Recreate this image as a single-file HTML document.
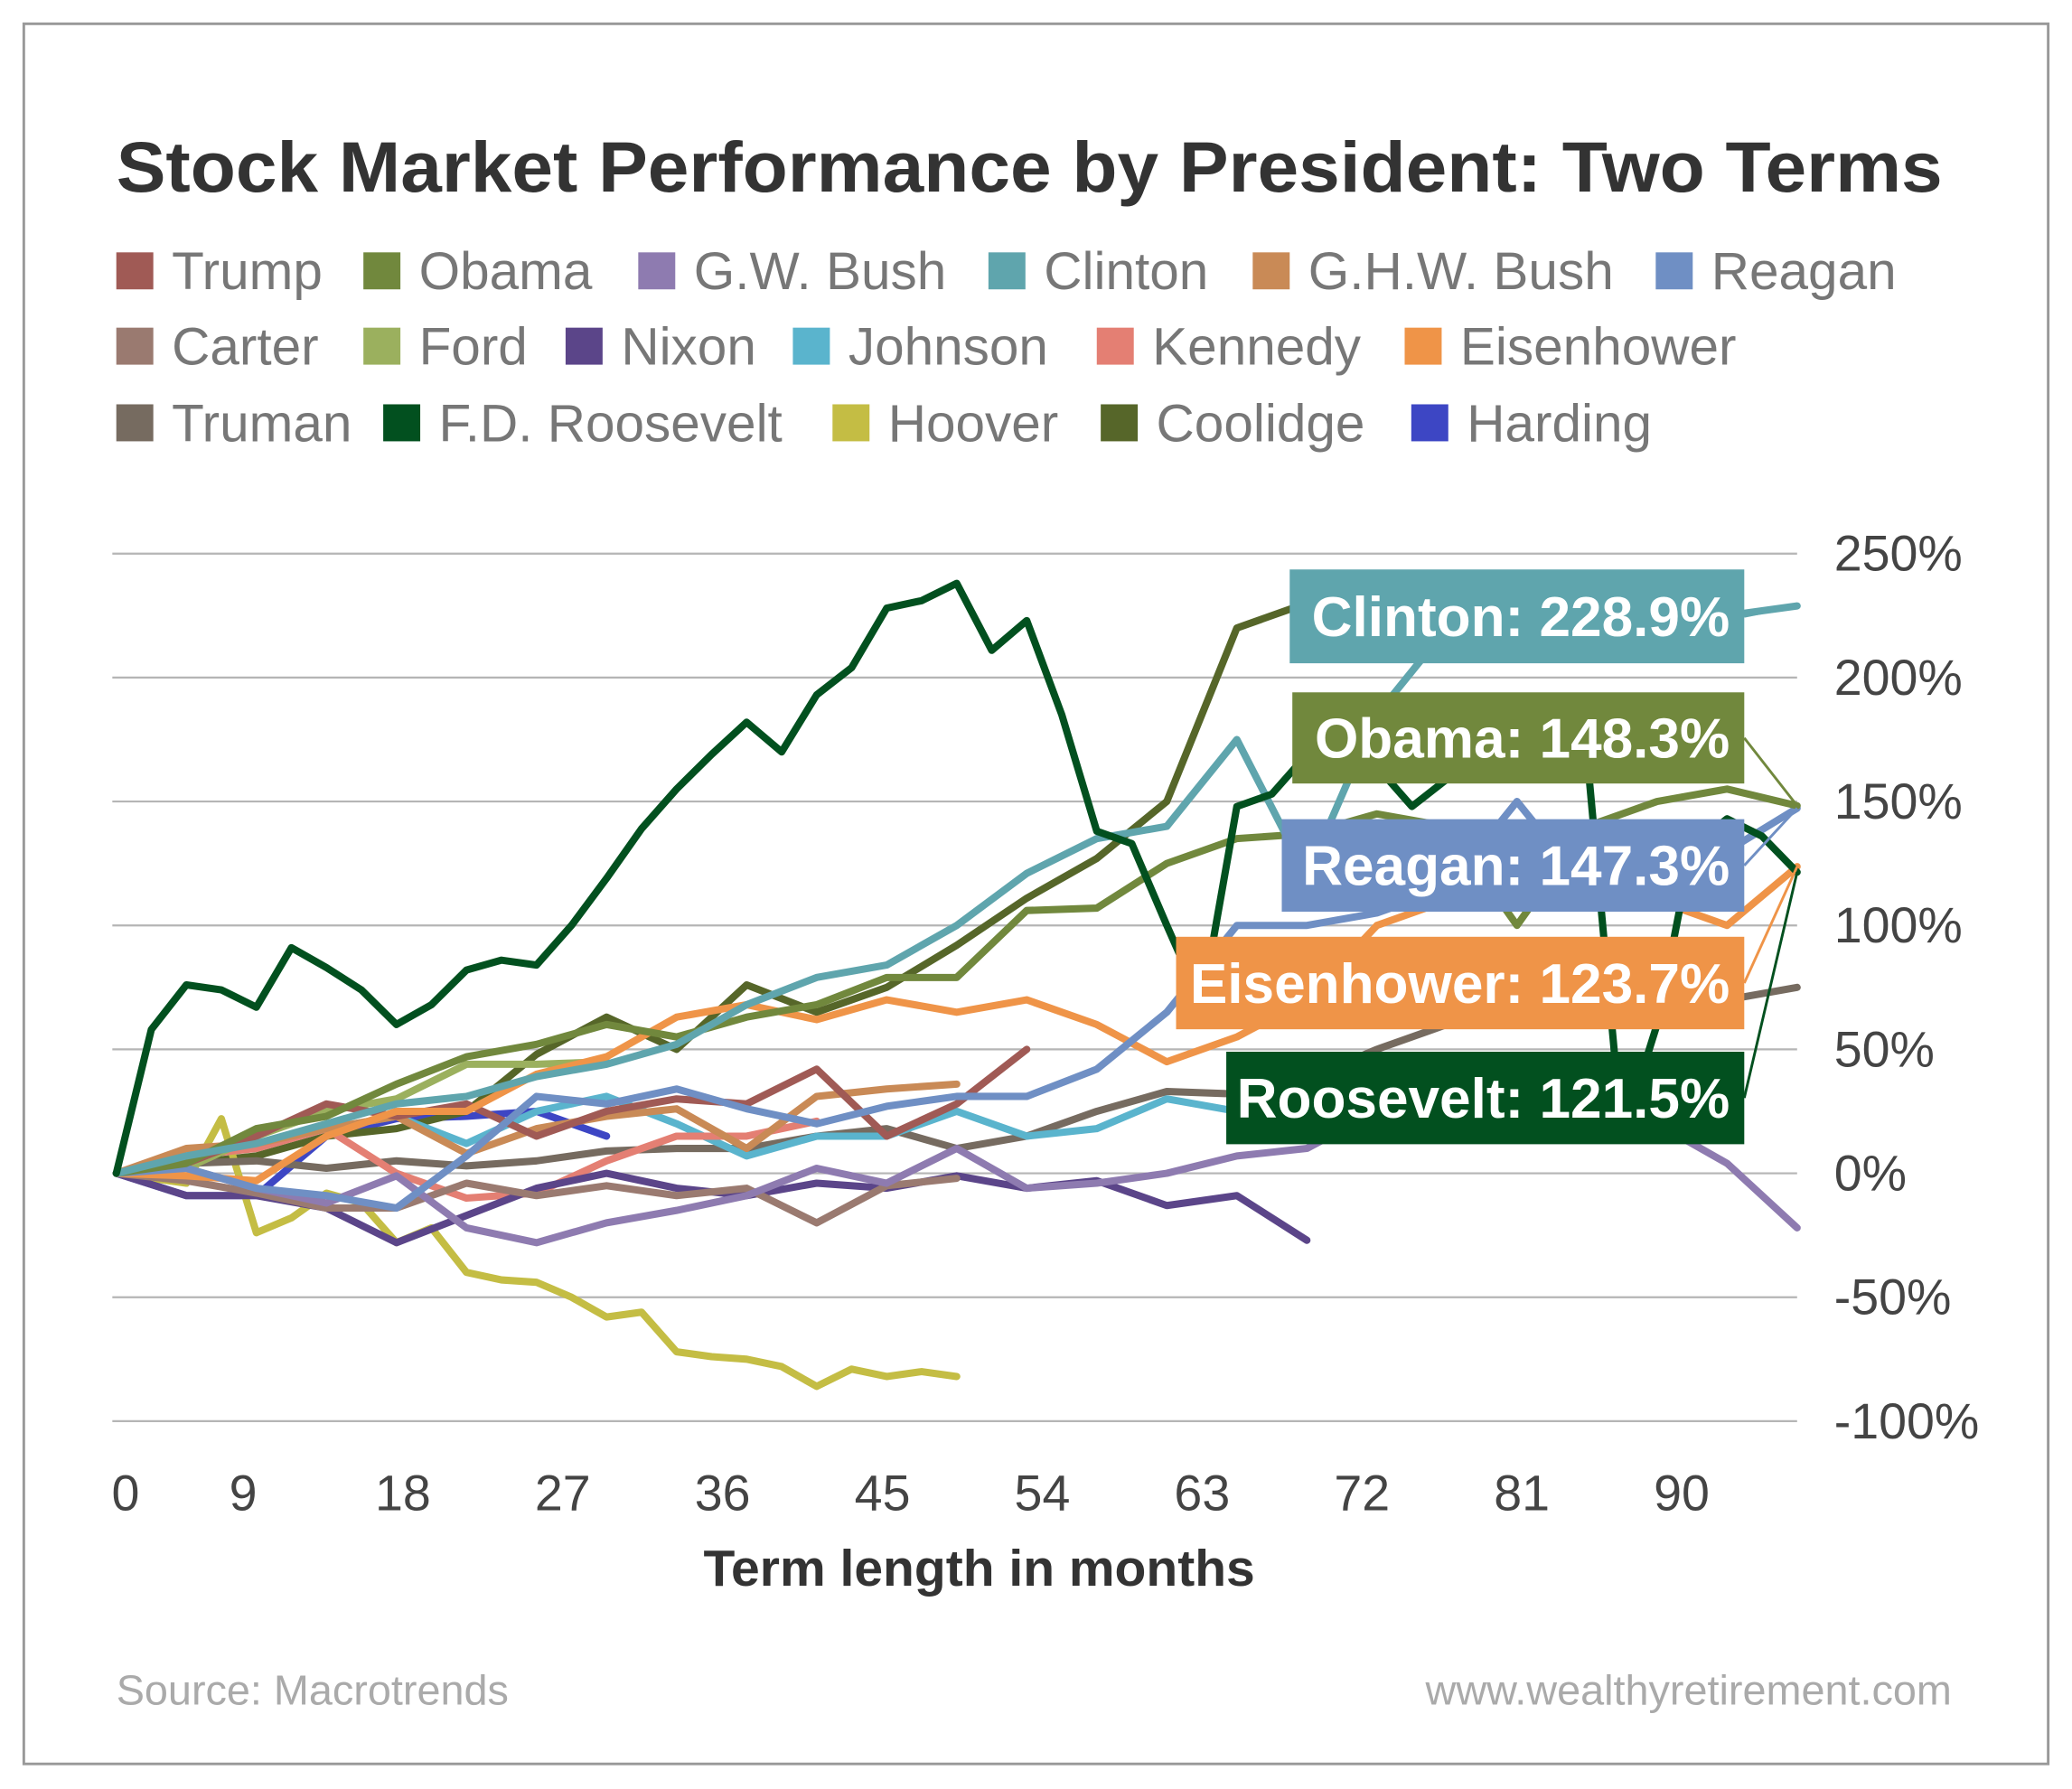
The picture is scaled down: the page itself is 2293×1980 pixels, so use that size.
<!DOCTYPE html>
<html><head><meta charset="utf-8"><style>
html,body{margin:0;padding:0;background:#fff;}
svg{display:block;}
text{font-family:"Liberation Sans",sans-serif;}
</style></head><body>
<svg id="chart" width="2293" height="1980" viewBox="0 0 1568 1354" xmlns="http://www.w3.org/2000/svg">
<rect x="18" y="18" width="1532" height="1317" fill="#fff" stroke="#999" stroke-width="2"/>
<text x="88" y="145" font-size="54" fill="#333" font-weight="bold" textLength="1382" lengthAdjust="spacingAndGlyphs">Stock Market Performance by President: Two Terms</text>
<g id="legend"></g>
<g id="grid"></g>
<g id="series"></g>
<g id="ylabels"></g>
<g id="xlabels"></g>
<text x="741" y="1200" font-size="39" font-weight="bold" fill="#333" text-anchor="middle">Term length in months</text>
<g id="callouts"></g>
<text x="88" y="1290" font-size="32" fill="#aaa">Source: Macrotrends</text>
<text x="1477" y="1290" font-size="32" fill="#aaa" text-anchor="end">www.wealthyretirement.com</text>
</svg>
<script>
const yTicks=[250,200,150,100,50,0,-50,-100];
const yTickLabels=["250%","200%","150%","100%","50%","0%","-50%","-100%"];
const xTicks=[0,9,18,27,36,45,54,63,72,81,90];
const names=["Trump","Obama","G.W. Bush","Clinton","G.H.W. Bush","Reagan","Carter","Ford","Nixon","Johnson","Kennedy","Eisenhower","Truman","F.D. Roosevelt","Hoover","Coolidge","Harding"];
const colors=["#a05a55","#71883d","#8e7bb0","#5fa5ad","#c98a56","#6f8fc4","#9a7a70","#9bb05e","#5b4589","#5ab4cd","#e47f73","#ef9448","#766b60","#02501f","#c4bd44","#566629","#3d46c4"];
const trump=[0,4,15,28,23,28,15,25,30,28,42,15,28,50];
const obama=[0,4,18,23,36,47,52,60,55,63,68,79,79,106,107,125,135,137,145,140,100,140,150,155,148.3];
const gwbush=[0,2,-6,-12,-1,-22,-28,-20,-15,-9,2,-4,10,-6,-4,0,7,10,25,30,35,30,20,4,-22];
const clinton=[0,7,12,20,28,31,39,44,52,68,79,84,100,121,135,140,175,120,185,220,230,235,220,225,228.9];
const ghwbush=[0,10,12,18,23,8,18,23,26,10,31,34,36];
const reagan=[0,2,-6,-9,-14,7,31,28,34,26,20,27,31,31,42,65,100,100,105,115,150,115,135,130,147.3];
const carter=[0,-3,-8,-14,-14,-4,-9,-5,-9,-6,-20,-5,-2];
const ford=[0,2,15,25,30,44,44,45];
const nixon=[0,-9,-9,-14,-28,-17,-6,0,-6,-9,-4,-6,-1,-6,-3,-13,-9,-27];
const johnson=[0,7,12,18,23,12,25,31,20,7,15,15,25,15,18,30,25];
const kennedy=[0,7,10,18,0,-10,-8,5,15,15,21];
const eisenhower=[0,-1,-3,15,25,25,40,47,63,68,62,70,65,70,60,45,55,70,100,110,110,110,110,100,123.7];
const truman=[0,4,5,2,5,3,5,9,10,10,15,18,10,15,25,33,32,38,50,60,62,60,65,70,75];
const fdr=[0,58,76,74,67,91,83,74,60,68,82,86,84,100,119,139,155,169,182,170,193,204,228,231,238,211,223,185,138,133,100,68,148,153,169,172,164,148,159,169,175,175,169,15,60,132,143,136,121.5];
const hoover=[0,-2,-4,22,-24,-18,-8,-12,-28,-22,-40,-43,-44,-50,-58,-56,-72,-74,-75,-78,-86,-79,-82,-80,-82];
const coolidge=[0,4,7,15,18,25,48,63,50,76,65,75,92,111,127,150,220,230];
const harding=[0,-9,-9,15,22,23,25,15];
const seriesData=[trump,obama,gwbush,clinton,ghwbush,reagan,carter,ford,nixon,johnson,kennedy,eisenhower,truman,fdr,hoover,coolidge,harding];
const steps=[4,4,4,4,4,4,4,4,4,4,4,4,4,2,2,4,4];
const drawOrder=[16,15,14,12,9,10,8,7,6,4,2,0,11,5,1,3,13];
const callouts=[
 {name:"Clinton",text:"Clinton: 228.9%",idx:3,x:976,y:431,w:344,h:71},
 {name:"Obama",text:"Obama: 148.3%",idx:1,x:978,y:524,w:342,h:69},
 {name:"Reagan",text:"Reagan: 147.3%",idx:5,x:970,y:620,w:350,h:70},
 {name:"Eisenhower",text:"Eisenhower: 123.7%",idx:11,x:890,y:709,w:430,h:70},
 {name:"Roosevelt",text:"Roosevelt: 121.5%",idx:13,x:928,y:796,w:392,h:70}];
const NS="http://www.w3.org/2000/svg";
function xS(m){return 88+m*13.25;}
function yS(v){return 888-v*1.876;}
function xT(m){return Math.max(95,63+m*13.44);}
function mk(t,a,p){const e=document.createElementNS(NS,t);for(const k in a)e.setAttribute(k,a[k]);p.appendChild(e);return e;}
const g=document.getElementById('grid');
yTicks.forEach((v,i)=>{
 const l=mk('line',{x1:85,x2:1360,y1:yS(v),y2:yS(v),stroke:'#b5b5b5','stroke-width':1.5},g);
 
 
 const t=mk('text',{x:1388,y:yS(v)+13,'font-size':38,fill:'#444'},document.getElementById('ylabels'));
 
 
 t.textContent=yTickLabels[i];
});
xTicks.forEach(m=>{
 const t=mk('text',{x:xT(m),y:1143,'font-size':38,fill:'#444','text-anchor':'middle'},document.getElementById('xlabels'));
 
 
 t.textContent=m;
});
const sg=document.getElementById('series');
drawOrder.forEach(i=>{
 const d=seriesData[i],st=steps[i];
 const pts=d.map((v,k)=>xS(k*st).toFixed(1)+','+yS(v).toFixed(1)).join(' ');
 const p=mk('polyline',{points:pts,fill:'none',stroke:colors[i],'stroke-width':5.5,'stroke-linejoin':'round','stroke-linecap':'round'},sg);
 
 
});
const lg=document.getElementById('legend');
const legPos=[[88,205],[275,205],[483,205],[748,205],[948,205],[1253,205],[88,262],[275,262],[428,262],[600,262],[830,262],[1063,262],[88,320],[290,320],[630,320],[833,320],[1068,320]];
names.forEach((n,i)=>{
 const [x,y]=legPos[i];
 const r=mk('rect',{x:x,y:y-14,width:28,height:28,fill:colors[i]},lg);
 
 
 const t=mk('text',{x:x+42,y:y+14,'font-size':40,fill:'#777'},lg);
 
 
 t.textContent=n;
});
const cg=document.getElementById('callouts');
callouts.forEach(c=>{
 const d=seriesData[c.idx],st=steps[c.idx];
 const ex=xS((d.length-1)*st),ey=yS(d[d.length-1]);
 const ln=mk('line',{x1:c.x+c.w,y1:c.y+c.h/2,x2:ex,y2:ey,stroke:colors[c.idx],'stroke-width':2},cg);
 
 
 const r=mk('rect',{x:c.x,y:c.y,width:c.w,height:c.h,fill:colors[c.idx]},cg);
 
 
 const t=mk('text',{x:c.x+c.w-11,y:c.y+c.h/2+15,'font-size':42.5,'font-weight':'bold',fill:'#fff','text-anchor':'end'},cg);
 
 
 t.textContent=c.text;
});
</script>
</body></html>
